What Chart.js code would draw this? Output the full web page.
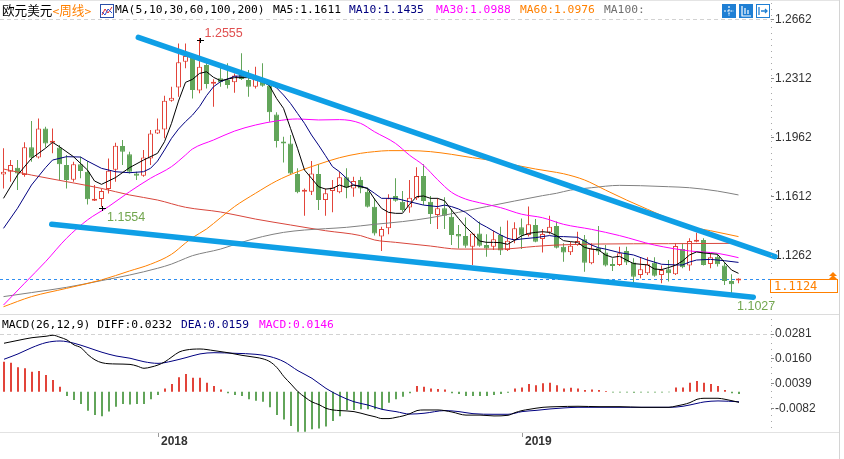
<!DOCTYPE html>
<html>
<head>
<meta charset="utf-8">
<script src="https://cdn.jsdelivr.net/npm/chart.js@4.4.1/dist/chart.umd.min.js"></script>
<style>
  body { margin:0; background:#fff; }
  #page { position:relative; width:844px; height:459px; overflow:hidden; background:#fff; }
  #kline { position:absolute; left:0; top:0; }
  #macd { position:absolute; left:0; top:316px; }
  .txt { position:absolute; white-space:pre; font-family:"DejaVu Sans Mono","Noto Sans CJK SC",monospace; font-size:11.3px; line-height:14px; }
  .cjk { font-family:"Noto Sans CJK SC",sans-serif; font-size:12.6px; }
  .hline { position:absolute; height:1px; background:#dcdcdc; }
  .vline { position:absolute; width:1px; background:#d4d4d4; }
  svg { position:absolute; }
</style>
</head>
<body>
<div id="page">
  <canvas id="kline" width="844" height="313"></canvas>
  <canvas id="macd" width="844" height="143"></canvas>

  <div class="hline" style="left:0;top:0;width:840px;background:#e4e4e4"></div>
  <div class="hline" style="left:0;top:314px;width:840px"></div>
  <div class="hline" style="left:0;top:432px;width:840px;background:#e2e2e2"></div>
  <div class="vline" style="left:839px;top:0;height:459px"></div>

  <!-- header of the price panel -->
  <div class="txt" style="left:2px;top:3px"><span class="cjk">欧元美元</span><span style="color:#ff8000">&lt;<span class="cjk">周线</span>&gt;</span></div>
  <svg style="left:100px;top:4px" width="14" height="14">
    <rect x="0.5" y="0.5" width="13" height="13" fill="#fff" stroke="#2a4fa8"/>
    <polyline points="2,11 5,5 8,9 12,3" fill="none" stroke="#e03030"/>
    <polyline points="2,8 5,11 8,5 12,9" fill="none" stroke="#2a50d0"/>
  </svg>
  <div class="txt" style="left:115px;top:3px;color:#000">MA(5,10,30,60,100,200)</div>
  <div class="txt" style="left:273px;top:3px;color:#000">MA5:1.1611</div>
  <div class="txt" style="left:349px;top:3px;color:#000080">MA10:1.1435</div>
  <div class="txt" style="left:436px;top:3px;color:#ff00ff">MA30:1.0988</div>
  <div class="txt" style="left:520px;top:3px;color:#ff8000">MA60:1.0976</div>
  <div class="txt" style="left:604px;top:3px;color:#707070">MA100:</div>

  <svg style="left:722px;top:4px" width="14" height="14">
    <rect width="14" height="14" fill="#1f7fd4"/>
    <path d="M7 2v10M2 7h10" stroke="#fff" stroke-width="1.2" stroke-dasharray="2,1.2"/>
  </svg>
  <svg style="left:739px;top:4px" width="14" height="14">
    <rect width="14" height="14" fill="#1f7fd4"/>
    <path d="M3 2v10h9M6 4v6M9 6v4" stroke="#fff" stroke-width="1.2" fill="none"/>
  </svg>
  <svg style="left:756px;top:4px" width="14" height="14">
    <rect x="0.5" y="0.5" width="13" height="13" fill="#fff" stroke="#1f7fd4"/>
    <path d="M3 3v8M5 7h6M9 5l2 2-2 2" stroke="#1f7fd4" stroke-width="1.3" fill="none"/>
  </svg>

  <!-- header of the MACD panel -->
  <div class="txt" style="left:2px;top:318px;color:#000">MACD(26,12,9) DIFF:0.0232</div>
  <div class="txt" style="left:181px;top:318px;color:#000080">DEA:0.0159</div>
  <div class="txt" style="left:259px;top:318px;color:#ff00ff">MACD:0.0146</div>
</div>

<script>
// weekly EUR/USD candles, index 0 = first visible week (Aug 2017)
const opens = [1.1746,1.1762,1.1786,1.1742,1.1907,1.1847,1.2019,1.1934,1.1905,1.1802,
  1.1715,1.1806,1.1762,1.1590,1.1600,1.1659,1.1774,1.1914,1.1865,1.1752,
  1.1738,1.1841,1.1989,1.2013,1.2183,1.2262,1.2415,1.2444,1.2243,1.2395,
  1.2284,1.2316,1.2306,1.2292,1.2335,1.2306,1.2266,1.2296,1.2272,1.2102,
  1.1940,1.1930,1.1748,1.1643,1.1643,1.1748,1.1594,1.1647,1.1640,1.1729,
  1.1663,1.1713,1.1643,1.1554,1.1377,1.1426,1.1618,1.1584,1.1549,1.1604,
  1.1736,1.1584,1.1505,1.1545,1.1495,1.1393,1.1381,1.1317,1.1396,1.1327,
  1.1317,1.1387,1.1298,1.1357,1.1432,1.1387,1.1446,1.1363,1.1402,1.1440,
  1.1317,1.1284,1.1327,1.1361,1.1219,1.1311,1.1282,1.1209,1.1209,1.1292,
  1.1224,1.1149,1.1159,1.1222,1.1149,1.1183,1.1153,1.1303,1.1205,1.1347,
  1.1357,1.1215,1.1258,1.1205,1.1114,1.1117]
const highs = [1.1901,1.1831,1.1831,1.1936,1.2063,1.2078,1.2029,1.2019,1.1920,1.1861,
  1.1821,1.1851,1.1825,1.1683,1.1663,1.1841,1.1934,1.1950,1.1881,1.1762,
  1.1891,1.2009,1.2078,1.2213,1.2266,1.2523,1.2523,1.2458,1.2555,1.2411,
  1.2310,1.2405,1.2405,1.2345,1.2464,1.2365,1.2385,1.2405,1.2286,1.2114,
  1.1970,1.1980,1.1782,1.1663,1.1825,1.1806,1.1663,1.1713,1.1762,1.1782,
  1.1732,1.1732,1.1669,1.1604,1.1436,1.1628,1.1723,1.1647,1.1713,1.1788,
  1.1806,1.1618,1.1604,1.1610,1.1541,1.1446,1.1491,1.1400,1.1466,1.1391,
  1.1412,1.1436,1.1472,1.1462,1.1485,1.1555,1.1481,1.1422,1.1501,1.1466,
  1.1337,1.1347,1.1406,1.1387,1.1337,1.1440,1.1327,1.1248,1.1317,1.1317,
  1.1248,1.1252,1.1254,1.1254,1.1205,1.1238,1.1337,1.1337,1.1367,1.1400,
  1.1367,1.1278,1.1272,1.1224,1.1153,1.1130]
const lows = [1.1663,1.1703,1.1653,1.1732,1.1821,1.1841,1.1905,1.1871,1.1713,1.1663,
  1.1703,1.1723,1.1568,1.1588,1.1554,1.1633,1.1703,1.1802,1.1752,1.1713,
  1.1732,1.1802,1.1985,1.1960,1.2177,1.2207,1.2375,1.2197,1.2227,1.2256,
  1.2148,1.2266,1.2256,1.2231,1.2306,1.2207,1.2256,1.2266,1.2059,1.1905,
  1.1817,1.1748,1.1634,1.1501,1.1624,1.1535,1.1501,1.1521,1.1634,1.1604,
  1.1614,1.1634,1.1549,1.1383,1.1292,1.1391,1.1584,1.1525,1.1519,1.1594,
  1.1564,1.1452,1.1422,1.1422,1.1327,1.1307,1.1311,1.1209,1.1317,1.1258,
  1.1298,1.1268,1.1292,1.1337,1.1303,1.1377,1.1343,1.1282,1.1391,1.1307,
  1.1228,1.1268,1.1323,1.1169,1.1213,1.1268,1.1199,1.1173,1.1203,1.1209,
  1.1104,1.1130,1.1149,1.1139,1.1100,1.1110,1.1149,1.1189,1.1175,1.1343,
  1.1205,1.1189,1.1199,1.1090,1.1027,1.1100]
const closes = [1.1762,1.1802,1.1752,1.1907,1.1845,1.2019,1.1930,1.1940,1.1806,1.1713,
  1.1806,1.1766,1.1598,1.1594,1.1647,1.1768,1.1916,1.1881,1.1762,1.1738,
  1.1847,1.1989,1.2013,1.2183,1.2201,1.2411,1.2448,1.2247,1.2385,1.2282,
  1.2296,1.2292,1.2276,1.2332,1.2312,1.2266,1.2310,1.2272,1.2114,1.1944,
  1.1930,1.1752,1.1640,1.1647,1.1752,1.1594,1.1634,1.1669,1.1729,1.1667,
  1.1707,1.1663,1.1554,1.1396,1.1422,1.1604,1.1590,1.1535,1.1608,1.1736,
  1.1588,1.1511,1.1545,1.1501,1.1387,1.1377,1.1323,1.1396,1.1323,1.1307,
  1.1361,1.1294,1.1353,1.1426,1.1383,1.1450,1.1347,1.1393,1.1436,1.1311,
  1.1282,1.1323,1.1351,1.1222,1.1307,1.1288,1.1205,1.1203,1.1278,1.1224,
  1.1139,1.1183,1.1213,1.1145,1.1179,1.1159,1.1321,1.1195,1.1351,1.1357,
  1.1209,1.1254,1.1213,1.1114,1.1094,1.1124]

// moving averages: [week, value]
const ma5 = [[0,1.1604],[2,1.1742],[4,1.1841],[6,1.1901],[7,1.1936],[8,1.1910],[10,1.1851],[12,1.1772],
  [13,1.1707],[14,1.1687],[16,1.1727],[18,1.1786],[20,1.1831],[22,1.1871],[23,1.1940],[24,1.2049],
  [25,1.2181],[26,1.2292],[27,1.2310],[28,1.2345],[29,1.2355],[30,1.2322],[31,1.2302],[33,1.2320],
  [35,1.2320],[37,1.2296],[38,1.2272],[39,1.2197],[40,1.2138],[41,1.2019],[42,1.1901],[43,1.1772],
  [44,1.1723],[45,1.1673],[46,1.1659],[47,1.1663],[48,1.1683],[49,1.1669],[50,1.1683],[51,1.1673],
  [52,1.1663],[53,1.1600],[54,1.1545],[55,1.1521],[56,1.1515],[57,1.1515],[58,1.1568],[59,1.1614],
  [60,1.1618],[61,1.1604],[62,1.1604],[63,1.1590],[64,1.1535],[65,1.1485],[66,1.1436],[67,1.1396],
  [68,1.1351],[69,1.1343],[70,1.1343],[71,1.1341],[72,1.1331],[73,1.1355],[74,1.1381],[75,1.1396],
  [76,1.1402],[77,1.1406],[78,1.1402],[79,1.1383],[80,1.1353],[81,1.1347],[82,1.1343],[83,1.1313],
  [84,1.1303],[85,1.1298],[86,1.1268],[87,1.1254],[88,1.1260],[89,1.1238],[90,1.1217],[91,1.1213],
  [92,1.1209],[93,1.1185],[94,1.1181],[95,1.1193],[96,1.1207],[97,1.1232],[98,1.1268],[99,1.1286],
  [100,1.1280],[101,1.1276],[102,1.1272],[103,1.1224],[104,1.1179],[105,1.1159]]
const ma10 = [[0,1.1426],[2,1.1545],[4,1.1683],[6,1.1786],[7,1.1831],[9,1.1851],[11,1.1849],[12,1.1825],
  [14,1.1782],[16,1.1762],[18,1.1756],[20,1.1762],[21,1.1782],[22,1.1825],[23,1.1891],[24,1.1960],
  [25,1.2015],[26,1.2059],[27,1.2098],[28,1.2148],[29,1.2213],[30,1.2266],[31,1.2296],[33,1.2328],
  [35,1.2332],[37,1.2306],[38,1.2284],[39,1.2260],[40,1.2217],[41,1.2167],[42,1.2108],[43,1.2049],
  [44,1.1980],[45,1.1920],[46,1.1857],[47,1.1792],[48,1.1762],[49,1.1723],[50,1.1683],[51,1.1677],
  [52,1.1663],[53,1.1634],[54,1.1604],[56,1.1604],[58,1.1584],[60,1.1564],[62,1.1555],[63,1.1564],
  [64,1.1555],[65,1.1541],[66,1.1521],[67,1.1489],[68,1.1456],[69,1.1434],[70,1.1410],[71,1.1387],
  [72,1.1367],[73,1.1357],[74,1.1363],[76,1.1371],[78,1.1383],[79,1.1377],[80,1.1377],[82,1.1373],
  [83,1.1351],[84,1.1327],[85,1.1311],[86,1.1303],[88,1.1282],[90,1.1268],[92,1.1238],[94,1.1213],
  [96,1.1209],[97,1.1209],[98,1.1226],[99,1.1238],[101,1.1242],[103,1.1234],[105,1.1224]]
const ma30 = [[0,1.0971],[3,1.1100],[6,1.1228],[9,1.1367],[12,1.1476],[15,1.1555],[18,1.1643],[21,1.1723],
  [24,1.1792],[26,1.1861],[27,1.1897],[30,1.1950],[33,1.2003],[36,1.2039],[39,1.2063],[42,1.2075],
  [45,1.2069],[48,1.2071],[51,1.2049],[53,1.1999],[56,1.1930],[58,1.1860],[60,1.1800],[62,1.1715],
  [64,1.1640],[66,1.1600],[68,1.1578],[71,1.1549],[74,1.1510],[77,1.1489],[80,1.1450],[84,1.1420],
  [88,1.1383],[93,1.1327],[98,1.1292],[102,1.1278],[105,1.1252]]
const ma60 = [[0,1.0961],[4,1.1021],[9,1.1070],[14,1.1120],[18,1.1173],[21,1.1213],[24,1.1272],[26,1.1339],
  [27,1.1371],[29,1.1422],[31,1.1489],[33,1.1555],[36,1.1634],[39,1.1707],[42,1.1762],[45,1.1806],
  [48,1.1845],[51,1.1871],[53,1.1881],[55,1.1887],[58,1.1887],[61,1.1881],[64,1.1865],[67,1.1845],
  [70,1.1827],[73,1.1802],[76,1.1778],[79,1.1758],[80,1.1750],[83,1.1713],[86,1.1653],[89,1.1594],
  [92,1.1539],[95,1.1485],[98,1.1436],[101,1.1412],[105,1.1377]]
const ma100 = [[0,1.1021],[4,1.1045],[9,1.1076],[14,1.1116],[18,1.1149],[22,1.1189],[24,1.1214],[26,1.1248],
  [27,1.1264],[31,1.1303],[34,1.1343],[37,1.1377],[40,1.1402],[43,1.1416],[46,1.1424],[49,1.1432],
  [53,1.1450],[57,1.1466],[61,1.1489],[65,1.1521],[69,1.1555],[73,1.1588],[77,1.1620],[79,1.1634],
  [81,1.1653],[84,1.1667],[88,1.1681],[91,1.1679],[95,1.1673],[98,1.1667],[102,1.1647],[105,1.1624]]
const ma200 = [[0,1.1778],[4,1.1742],[9,1.1703],[14,1.1663],[18,1.1624],[22,1.1594],[26,1.1551],[31,1.1523],
  [36,1.1481],[41,1.1446],[46,1.1412],[51,1.1383],[53,1.1357],[56,1.1343],[61,1.1321],[65,1.1303],
  [71,1.1303],[76,1.1319],[79,1.1327],[85,1.1333],[95,1.1335],[104,1.1337]]

// hand drawn channel lines: [week, price]
const upperTrend = [[19.26,1.2559],[110.21,1.1258]]
const lowerTrend = [[6.89,1.1450],[107.11,1.1017]]

// MACD(26,12,9)
const macdHist = [0.0146,0.0141,0.0119,0.0114,0.0097,0.0101,0.0081,0.0057,0.0024,-0.0021,
  -0.0041,-0.0060,-0.0093,-0.0114,-0.0119,-0.0097,-0.0073,-0.0060,-0.0062,-0.0060,
  -0.0060,-0.0037,-0.0016,0.0016,0.0037,0.0070,0.0086,0.0068,0.0068,0.0044,
  0.0028,0.0011,-0.0008,-0.0016,-0.0021,-0.0037,-0.0044,-0.0049,-0.0076,-0.0114,
  -0.0135,-0.0167,-0.0195,-0.0195,-0.0183,-0.0179,-0.0170,-0.0143,-0.0119,-0.0089,
  -0.0089,-0.0086,-0.0086,-0.0086,-0.0086,-0.0054,-0.0037,-0.0024,-0.0008,0.0028,
  0.0024,0.0016,0.0013,0.0011,-0.0008,-0.0011,-0.0021,-0.0021,-0.0021,-0.0021,
  -0.0016,-0.0011,-0.0005,0.0016,0.0021,0.0037,0.0032,0.0041,0.0044,0.0032,
  0.0016,0.0019,0.0016,0.0008,0.0011,0.0008,0.0004,-0.0004,-0.0004,-0.0004,
  -0.0005,-0.0004,-0.0004,-0.0004,-0.0004,-0.0003,0.0021,0.0021,0.0044,0.0052,
  0.0044,0.0037,0.0028,0.0008,-0.0008,-0.0011]
const diffLine = [[0,0.0236],[2,0.0250],[4,0.0263],[6,0.0270],[7,0.0275],[8,0.0265],[9,0.0252],[10,0.0228],
  [11,0.0214],[12,0.0180],[13,0.0155],[14,0.0141],[16,0.0135],[18,0.0133],[19,0.0125],[20,0.0114],
  [21,0.0120],[22,0.0130],[23,0.0146],[24,0.0170],[25,0.0193],[26,0.0203],[28,0.0208],[30,0.0200],
  [32,0.0190],[34,0.0177],[36,0.0167],[37,0.0160],[38,0.0146],[39,0.0117],[40,0.0073],[41,0.0037],
  [42,0.0000],[43,-0.0027],[44,-0.0050],[45,-0.0063],[46,-0.0081],[47,-0.0089],[48,-0.0092],[50,-0.0097],
  [52,-0.0114],[53,-0.0122],[54,-0.0131],[55,-0.0131],[56,-0.0125],[57,-0.0118],[58,-0.0107],[59,-0.0092],
  [60,-0.0089],[62,-0.0089],[64,-0.0099],[66,-0.0114],[68,-0.0114],[70,-0.0118],[72,-0.0115],[73,-0.0102],
  [74,-0.0092],[75,-0.0086],[77,-0.0076],[79,-0.0073],[82,-0.0071],[85,-0.0073],[88,-0.0073],[91,-0.0076],
  [95,-0.0076],[96,-0.0070],[97,-0.0063],[98,-0.0053],[99,-0.0037],[100,-0.0032],[102,-0.0032],[103,-0.0037],
  [104,-0.0044],[105,-0.0052]]
const deaLine = [[0,0.0158],[2,0.0184],[4,0.0215],[6,0.0239],[8,0.0247],[10,0.0236],[12,0.0215],[14,0.0192],
  [16,0.0174],[18,0.0163],[20,0.0146],[22,0.0138],[24,0.0149],[26,0.0166],[28,0.0184],[30,0.0190],
  [33,0.0187],[36,0.0182],[38,0.0171],[40,0.0146],[42,0.0102],[44,0.0065],[46,0.0016],[48,-0.0021],
  [50,-0.0049],[52,-0.0065],[54,-0.0086],[56,-0.0097],[58,-0.0109],[60,-0.0105],[63,-0.0092],[65,-0.0097],
  [67,-0.0107],[70,-0.0110],[72,-0.0110],[74,-0.0097],[76,-0.0091],[78,-0.0084],[80,-0.0079],[82,-0.0076],
  [90,-0.0076],[95,-0.0076],[97,-0.0071],[99,-0.0057],[100,-0.0050],[102,-0.0045],[105,-0.0049]]

// axis ticks
const priceTicks = [1.2662, 1.2312, 1.1962, 1.1612, 1.1262]
const macdTicks = [0.0281, 0.0160, 0.0039, -0.0082]
const yearWeeks = [22, 74]
const yearLabels = ['2018', '2019']

// weeks that carry a high / low label
const highMarkWeeks = [28]
const lowMarkWeeks = [14, 104]

const RED = '#e2443a'
const GREEN = '#62a55a'
const lastPrice = closes[closes.length - 1]
const weeks = closes.map((c, i) => i)
const isUp = i => closes[i] >= opens[i]

// 7 px per week, plot 771 px wide
const xMin = -0.5
const xMax = -0.5 + 771 / 7
// macd panel sits half a pixel to the right so its 2px bars stay crisp
const xMinMacd = xMin - 0.5 / 7
const xMaxMacd = xMax - 0.5 / 7

const pts = arr => arr.map(p => ({ x: p[0], y: p[1] }))

function maLine(arr, color, smooth, order){
  return {
    type: 'line', data: pts(arr), borderColor: color, borderWidth: 1,
    pointRadius: 0, fill: false, order: order,
    cubicInterpolationMode: smooth ? 'monotone' : 'default', tension: 0
  }
}

function trendLine(arr){
  return {
    type: 'line', data: pts(arr), borderColor: '#0f9fe6', borderWidth: 5.5,
    borderCapStyle: 'round', pointRadius: 0, fill: false, clip: false, order: 0
  }
}

const sideAxis = (min, max, ticks) => ({
  position: 'right', min: min, max: max,
  afterBuildTicks: s => { s.ticks = ticks.map(v => ({ value: v })) },
  afterFit: s => { s.width = 73; s.paddingTop = 0; s.paddingBottom = 0 },
  ticks: {
    callback: v => v.toFixed(4), color: '#333', padding: 1,
    font: { family: '"Liberation Sans", Arial, sans-serif', size: 12 }
  },
  grid: {
    color: c => c.tick && c.tick.value === ticks[0] ? '#d2d2d2' : 'rgba(0,0,0,0)',
    tickLength: 3, tickColor: '#888', lineWidth: 1
  },
  border: { display: false, dash: [4, 3] }
})

function dottedAxis(chart){
  const { ctx, chartArea: a } = chart
  ctx.save()
  ctx.fillStyle = '#a8a8a8'
  for (let yy = a.top + 3; yy < a.bottom; yy += 6) ctx.fillRect(Math.floor(a.right), yy, 1, 1)
  ctx.restore()
}

const priceMarks = {
  id: 'priceMarks',
  beforeDatasetsDraw(chart){
    const { ctx, chartArea: a, scales: { y } } = chart
    const py = Math.round(y.getPixelForValue(lastPrice)) + 0.5
    ctx.save()
    ctx.strokeStyle = '#2f8ef0'
    ctx.lineWidth = 1
    ctx.setLineDash([3, 3])
    ctx.beginPath(); ctx.moveTo(a.left, py); ctx.lineTo(a.right, py); ctx.stroke()
    ctx.restore()
  },
  afterDraw(chart){
    const { ctx, chartArea: a, scales: { x, y } } = chart
    dottedAxis(chart)
    ctx.save()
    ctx.font = '12.5px "Liberation Sans", Arial, sans-serif'
    ctx.textBaseline = 'alphabetic'
    ctx.textAlign = 'left'

    const cross = (px, py) => {
      ctx.strokeStyle = '#000'
      ctx.lineWidth = 1
      ctx.beginPath()
      ctx.moveTo(Math.round(px) - 3, Math.round(py) + 0.5); ctx.lineTo(Math.round(px) + 4, Math.round(py) + 0.5)
      ctx.moveTo(Math.round(px) + 0.5, Math.round(py) - 2); ctx.lineTo(Math.round(px) + 0.5, Math.round(py) + 3)
      ctx.stroke()
    }

    highMarkWeeks.forEach(w => {
      const px = x.getPixelForValue(w), py = y.getPixelForValue(highs[w])
      cross(px, py + 2)
      ctx.fillStyle = '#e05050'
      ctx.fillText(highs[w].toFixed(4), px + 5, py - 1.5)
    })
    lowMarkWeeks.forEach((w, k) => {
      const px = x.getPixelForValue(w), py = y.getPixelForValue(lows[w])
      if (k === 0) cross(px, py + 1)
      ctx.fillStyle = '#72a64e'
      ctx.fillText(lows[w].toFixed(4), px + 5.5, py + 14)
    })

    // current price box on the axis
    const py = Math.round(y.getPixelForValue(lastPrice))
    ctx.fillStyle = '#fff'
    ctx.fillRect(a.right, py, 67, 13)
    ctx.strokeStyle = '#ff8000'
    ctx.lineWidth = 1
    ctx.strokeRect(a.right - 0.5, py + 0.5, 67, 13)
    ctx.fillStyle = '#ff8000'
    ctx.font = '12px "DejaVu Sans Mono", monospace'
    ctx.textBaseline = 'middle'
    ctx.fillText(lastPrice.toFixed(4), a.right + 3, py + 7.5)
    // little arrow above the box
    const ax = a.right + 62
    ctx.beginPath()
    ctx.moveTo(ax - 4, py - 3); ctx.lineTo(ax, py - 7); ctx.lineTo(ax + 4, py - 3); ctx.closePath()
    ctx.moveTo(ax - 4, py); ctx.lineTo(ax, py - 4); ctx.lineTo(ax + 4, py); ctx.closePath()
    ctx.fill()
    ctx.restore()
  }
}

new Chart(document.getElementById('kline'), {
  type: 'line',
  data: {
    datasets: [
      trendLine(upperTrend),
      trendLine(lowerTrend),
      maLine(ma5, '#000000', false, 1),
      maLine(ma10, '#000080', false, 2),
      maLine(ma30, '#ff00ff', true, 3),
      maLine(ma60, '#ff8000', true, 4),
      maLine(ma100, '#808080', true, 5),
      maLine(ma200, '#d8463c', true, 6),
      {
        type: 'bar', data: weeks.map(i => ({ x: i, y: [opens[i], closes[i]] })),
        backgroundColor: c => isUp(c.dataIndex) ? '#ffffff' : GREEN,
        borderColor: c => isUp(c.dataIndex) ? RED : GREEN,
        borderWidth: 1, borderSkipped: false, barThickness: 5, minBarLength: 2,
        grouped: false, inflateAmount: 0, order: 10
      },
      {
        type: 'bar', data: weeks.map(i => ({ x: i, y: [lows[i], highs[i]] })),
        backgroundColor: c => isUp(c.dataIndex) ? RED : GREEN,
        borderWidth: 0, barThickness: 1, grouped: false, inflateAmount: 0, order: 11
      }
    ]
  },
  options: {
    responsive: false,
    animation: false,
    events: [],
    layout: { padding: 0, autoPadding: false },
    plugins: { legend: { display: false }, tooltip: { enabled: false } },
    scales: {
      x: { type: 'linear', min: xMin, max: xMax, offset: false, display: false },
      y: sideAxis(1.09238, 1.27806, priceTicks)
    }
  },
  plugins: [priceMarks]
})

new Chart(document.getElementById('macd'), {
  type: 'line',
  data: {
    datasets: [
      {
        type: 'line', data: pts(diffLine), borderColor: '#000', borderWidth: 1,
        pointRadius: 0, cubicInterpolationMode: 'monotone', order: 1
      },
      {
        type: 'line', data: pts(deaLine), borderColor: '#000080', borderWidth: 1,
        pointRadius: 0, cubicInterpolationMode: 'monotone', order: 2
      },
      {
        type: 'bar', data: weeks.map(i => ({ x: i, y: macdHist[i] })),
        backgroundColor: c => macdHist[c.dataIndex] >= 0 ? RED : GREEN,
        barThickness: 2, grouped: false, inflateAmount: 0, order: 5
      }
    ]
  },
  options: {
    responsive: false,
    animation: false,
    events: [],
    layout: { padding: 0, autoPadding: false },
    plugins: { legend: { display: false }, tooltip: { enabled: false } },
    scales: {
      x: {
        type: 'linear', min: xMinMacd, max: xMaxMacd, offset: false,
        afterBuildTicks: s => { s.ticks = yearWeeks.map(v => ({ value: v })) },
        afterFit: s => { s.height = 27; s.paddingLeft = 0; s.paddingRight = 0 },
        ticks: {
          callback: v => yearLabels[yearWeeks.indexOf(v)],
          align: 'start', labelOffset: 3, padding: -3, maxRotation: 0, autoSkip: false,
          color: '#333', font: { family: '"Liberation Sans", Arial, sans-serif', size: 12, weight: 'bold' }
        },
        grid: { offset: false, drawOnChartArea: false, tickLength: 5, tickColor: '#999' },
        border: { display: false }
      },
      y: sideAxis(-0.01963, 0.03687, macdTicks)
    }
  },
  plugins: [{ id: 'axisDots', afterDraw: dottedAxis }]
})
</script>
</body>
</html>
